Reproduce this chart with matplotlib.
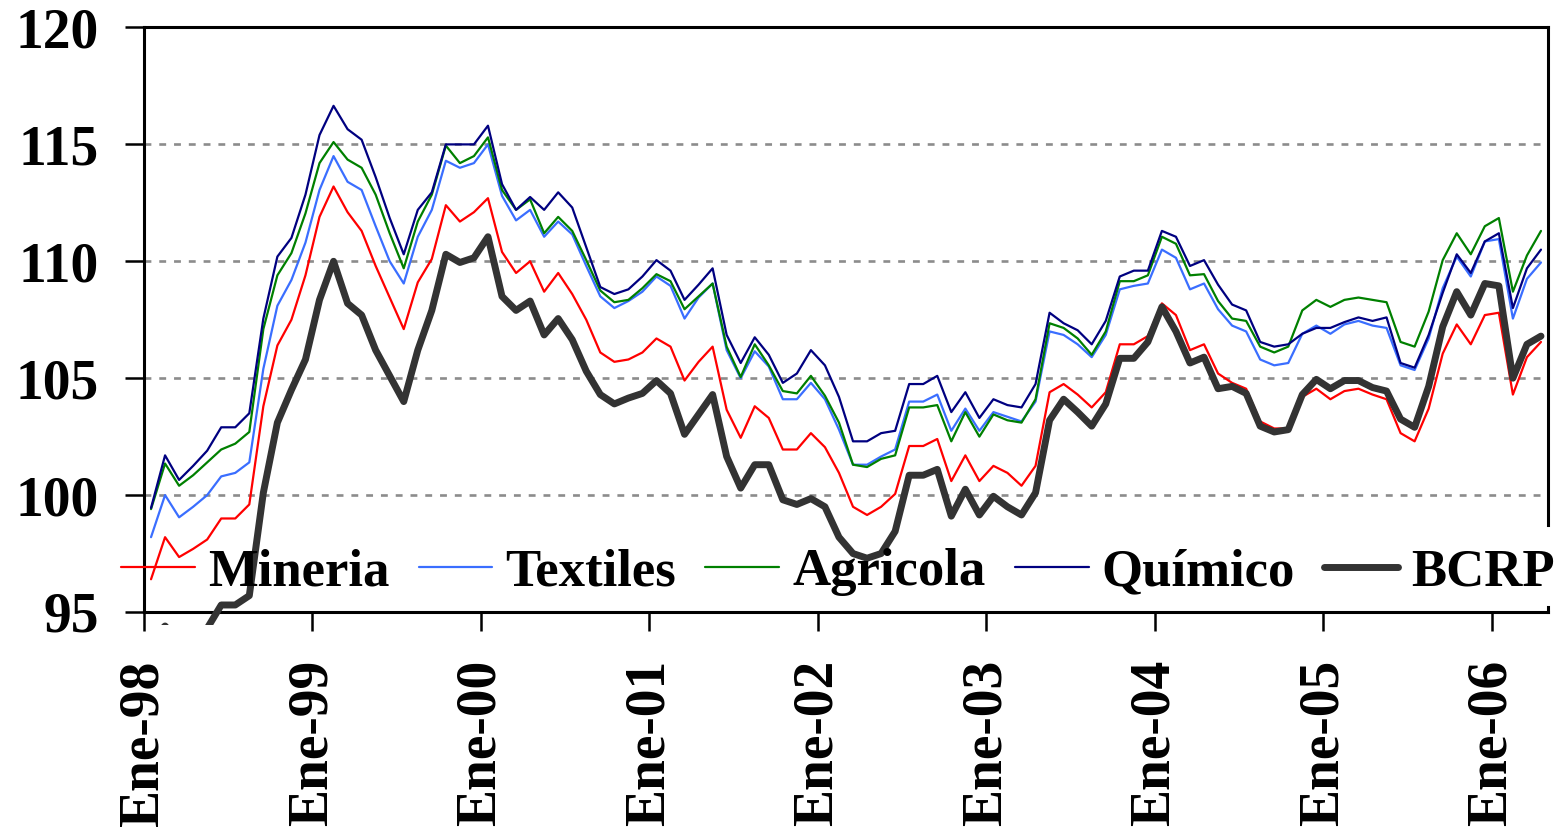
import matplotlib
matplotlib.use("Agg")
import matplotlib.pyplot as plt
from matplotlib.patches import Rectangle
import numpy as np

# Monthly index values, January 1998 through April 2006
mineria = [96.4, 98.2, 97.35, 97.7, 98.1, 99.0, 99.0, 99.6, 103.8, 106.4,
           107.5, 109.4, 111.9, 113.2, 112.1, 111.3, 109.8, 108.45, 107.1, 109.1,
           110.1, 112.4, 111.7, 112.1, 112.7, 110.4, 109.5, 110.0, 108.7, 109.5,
           108.6, 107.5, 106.1, 105.7, 105.8, 106.1, 106.7, 106.35, 104.9, 105.7,
           106.35, 103.65, 102.45, 103.8, 103.3, 101.95, 101.95, 102.65, 102.05, 100.95,
           99.5, 99.15, 99.5, 100.05, 102.1, 102.1, 102.4, 100.6, 101.7, 100.6,
           101.25, 100.95, 100.4, 101.25, 104.4, 104.75, 104.3, 103.75, 104.4, 106.45,
           106.45, 106.8, 108.2, 107.7, 106.2, 106.45, 105.2, 104.8, 104.55, 103.15,
           102.85, 102.85, 104.2, 104.55, 104.1, 104.45, 104.55, 104.3, 104.1, 102.65,
           102.3, 103.7, 106.05, 107.3, 106.45, 107.7, 107.8, 104.3, 105.9, 106.55]

textiles = [98.2, 100.0, 99.05, 99.5, 100.0, 100.8, 100.95, 101.4, 105.4, 108.1,
            109.2, 110.8, 113.05, 114.5, 113.4, 113.05, 111.5, 110.0, 109.05, 111.05,
            112.2, 114.3, 114.0, 114.2, 115.0, 112.8, 111.75, 112.2, 111.05, 111.7,
            111.15, 109.8, 108.5, 108.0, 108.3, 108.7, 109.35, 108.95, 107.55, 108.45,
            109.05, 106.2, 105.0, 106.15, 105.5, 104.1, 104.1, 104.8, 104.1, 102.8,
            101.3, 101.3, 101.65, 101.95, 104.0, 104.0, 104.3, 102.75, 103.7, 102.75,
            103.55, 103.35, 103.15, 104.0, 107.0, 106.85, 106.45, 105.9, 106.85, 108.8,
            108.95, 109.05, 110.5, 110.15, 108.8, 109.05, 107.95, 107.25, 107.0, 105.8,
            105.55, 105.65, 106.9, 107.25, 106.9, 107.3, 107.45, 107.25, 107.15, 105.55,
            105.35, 106.7, 108.85, 110.2, 109.35, 110.85, 110.95, 107.55, 109.25, 109.95]

agricola = [99.4, 101.35, 100.4, 100.85, 101.4, 101.95, 102.2, 102.7, 107.1, 109.4,
            110.35, 112.05, 114.2, 115.1, 114.35, 114.0, 112.85, 111.2, 109.7, 111.7,
            112.85, 114.95, 114.2, 114.5, 115.3, 113.05, 112.2, 112.65, 111.2, 111.9,
            111.3, 110.05, 108.75, 108.25, 108.35, 108.85, 109.45, 109.15, 107.95, 108.5,
            109.05, 106.35, 105.05, 106.45, 105.55, 104.45, 104.35, 105.1, 104.25, 103.1,
            101.3, 101.2, 101.55, 101.7, 103.75, 103.75, 103.85, 102.3, 103.55, 102.5,
            103.45, 103.2, 103.1, 104.1, 107.35, 107.15, 106.7, 106.0, 107.0, 109.15,
            109.15, 109.4, 111.05, 110.75, 109.4, 109.45, 108.3, 107.55, 107.45, 106.35,
            106.1, 106.35, 107.9, 108.35, 108.05, 108.35, 108.45, 108.35, 108.25, 106.55,
            106.35, 107.85, 110.05, 111.2, 110.3, 111.5, 111.85, 108.7, 110.25, 111.3]

quimico = [99.45, 101.7, 100.65, 101.25, 101.9, 102.9, 102.9, 103.5, 107.55, 110.2,
           111.0, 112.85, 115.4, 116.65, 115.65, 115.2, 113.6, 111.85, 110.3, 112.2,
           112.95, 115.0, 115.0, 115.0, 115.8, 113.3, 112.2, 112.75, 112.2, 112.95,
           112.3, 110.6, 108.9, 108.6, 108.8, 109.35, 110.05, 109.6, 108.35, 109.0,
           109.7, 106.85, 105.65, 106.75, 106.0, 104.8, 105.2, 106.2, 105.55, 104.2,
           102.3, 102.3, 102.65, 102.75, 104.75, 104.75, 105.1, 103.55, 104.4, 103.3,
           104.1, 103.85, 103.75, 104.75, 107.8, 107.35, 107.05, 106.45, 107.45, 109.35,
           109.6, 109.6, 111.3, 111.05, 109.8, 110.05, 109.0, 108.15, 107.9, 106.55,
           106.35, 106.45, 106.9, 107.15, 107.15, 107.4, 107.6, 107.45, 107.6, 105.65,
           105.45, 106.85, 108.65, 110.3, 109.5, 110.85, 111.2, 108.0, 109.7, 110.5]

bcrp = [93.8, 94.4, 93.7, 93.6, 94.3, 95.3, 95.3, 95.7, 100.1, 103.1,
        104.5, 105.8, 108.35, 110.0, 108.2, 107.7, 106.2, 105.1, 104.0, 106.2,
        107.9, 110.3, 109.95, 110.15, 111.05, 108.5, 107.9, 108.3, 106.85, 107.55,
        106.65, 105.3, 104.3, 103.9, 104.15, 104.35, 104.9, 104.35, 102.6, 103.45,
        104.3, 101.65, 100.3, 101.3, 101.3, 99.8, 99.6, 99.85, 99.5, 98.2,
        97.5, 97.3, 97.5, 98.45, 100.85, 100.85, 101.1, 99.1, 100.25, 99.15,
        99.95, 99.5, 99.15, 100.1, 103.2, 104.1, 103.55, 102.95, 103.9, 105.85,
        105.85, 106.55, 108.05, 107.0, 105.65, 105.9, 104.55, 104.65, 104.35, 102.95,
        102.7, 102.8, 104.3, 104.95, 104.55, 104.9, 104.9, 104.6, 104.45, 103.25,
        102.9, 104.65, 107.2, 108.7, 107.7, 109.05, 108.95, 105.0, 106.45, 106.8]

year_labels = ["Ene-98", "Ene-99", "Ene-00", "Ene-01", "Ene-02",
               "Ene-03", "Ene-04", "Ene-05", "Ene-06"]
y_ticks = [95, 100, 105, 110, 115, 120]

series = [
    ("Mineria", mineria, "#ff0000", 1.6),
    ("Textiles", textiles, "#3a6eff", 1.6),
    ("Agricola", agricola, "#008000", 1.6),
    ("Químico", quimico, "#000080", 1.6),
    ("BCRP", bcrp, "#333333", 5.0),
]

plt.rcParams["font.family"] = ["Liberation Serif", "DejaVu Serif"]
plt.rcParams["font.weight"] = "bold"

fig = plt.figure(figsize=(15.63, 8.27), dpi=100)
ax = fig.add_axes([144 / 1563, 1 - 612 / 827, (1548 - 144) / 1563, (612 - 27.5) / 827])

x = np.arange(len(mineria))

# Lines may spill slightly below the lower axis line before being clipped
clip_rect = Rectangle((0, -0.022), 1, 1.044, transform=ax.transAxes,
                      facecolor="none", edgecolor="none")
ax.add_patch(clip_rect)

for name, vals, color, lw in series:
    ln, = ax.plot(x, vals, color=color, lw=lw, label=name,
                  solid_joinstyle="round", solid_capstyle="round", zorder=3)
    ln.set_clip_path(clip_rect)

ax.set_xlim(-0.5, len(mineria) - 0.5)
ax.set_ylim(95, 120)

ax.set_yticks(y_ticks)
ax.set_yticklabels([str(v) for v in y_ticks])
ax.set_xticks(np.arange(0, len(mineria), 12) - 0.5)
ax.set_xticklabels(year_labels, rotation=90, va="top", ha="center")

ax.tick_params(axis="y", direction="out", length=13.7, width=1.8, pad=19,
               labelsize=40)
ax.tick_params(axis="x", direction="out", length=13.7, width=1.8, pad=21,
               labelsize=40)

ax.yaxis.grid(True, color="#8c8c8c", linestyle=(0, (2.6, 3.0)), linewidth=1.9)
ax.set_axisbelow(True)

for side in ["left", "bottom", "top", "right"]:
    ax.spines[side].set_linewidth(2.2)
    ax.spines[side].set_color("black")
# the legend band interrupts the right-hand frame line
ax.spines["right"].set_bounds(98.72, 120)
ax.plot([1, 1], [0, 0.009], transform=ax.transAxes, color="black",
        lw=2.2, clip_on=False, zorder=4)

leg = fig.legend(loc="center", bbox_to_anchor=(838 / 1563, 1 - 572 / 827),
                 ncol=5, frameon=False, fontsize=38, handlelength=1.4,
                 handletextpad=0.25, columnspacing=0.55, borderpad=0,
                 borderaxespad=0)

fig.savefig("out.png", dpi=100)
